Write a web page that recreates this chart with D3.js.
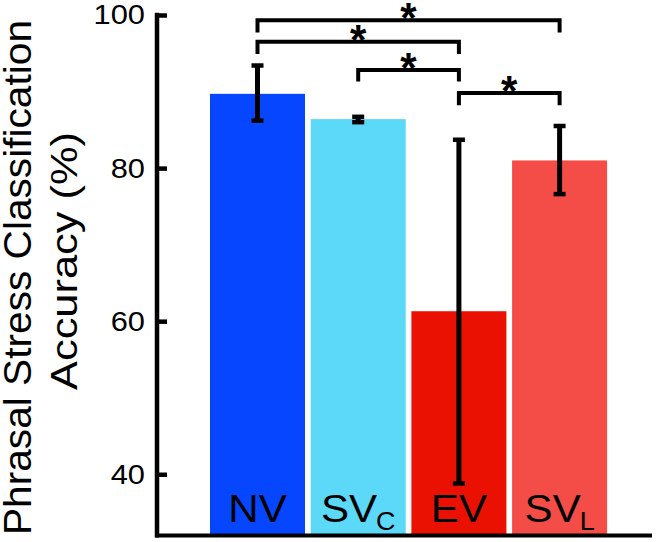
<!DOCTYPE html>
<html><head><meta charset="utf-8">
<script src="https://cdn.jsdelivr.net/npm/d3@7"></script>
<style>body{margin:0;background:#fff}svg{display:block}</style>
</head><body>
<script>
const categories = ["NV", "SVC", "EV", "SVL"];
const labelMain = ["NV", "SV", "EV", "SV"];
const labelSub = ["", "C", "", "L"];
const means = [89.7, 86.4, 61.3, 81.0];
const errLow = [86.2, 86.0, 38.8, 76.6];
const errHigh = [93.4, 86.7, 83.7, 85.5];
const colors = ["#0646FE", "#5CD9F9", "#EA1103", "#F44C47"];
const yTicks = [40, 60, 80, 100];
const yTitle = ["Phrasal Stress Classification", "Accuracy (%)"];
// significance brackets: from category, to category, bar level, leg bottom
const sigFrom = ["NV", "NV", "SVC", "EV"];
const sigTo = ["SVL", "EV", "EV", "SVL"];
const sigLevel = [99.3, 96.5, 92.8, 89.8];
const sigLeg = [97.7, 94.9, 91.3, 88.2];
const sigLabel = ["*", "*", "*", "*"];

const W = 656, H = 542;
const svg = d3.select("body").append("svg").attr("width", W).attr("height", H);
const font = "'Liberation Sans', Arial, Helvetica, sans-serif";
const stretch = 1.08;

const y = d3.scaleLinear().domain([32, 100]).range([535.5, 15]);
const x = d3.scaleBand().domain(categories).range([210, 607.1]).paddingInner(0.0566).paddingOuter(0);
const cx = c => x(c) + x.bandwidth() / 2;

// bars
svg.selectAll("rect.bar").data(categories).join("rect")
  .attr("x", d => x(d)).attr("width", x.bandwidth())
  .attr("y", (d, i) => y(means[i])).attr("height", (d, i) => y(32) - y(means[i]))
  .attr("fill", (d, i) => colors[i]);

// error bars
const eb = svg.append("g").attr("stroke", "#000");
categories.forEach((c, i) => {
  eb.append("line").attr("stroke-width", 5).attr("x1", cx(c)).attr("x2", cx(c)).attr("y1", y(errLow[i])).attr("y2", y(errHigh[i]));
  [errLow[i], errHigh[i]].forEach(v => eb.append("line").attr("stroke-width", 4.5).attr("x1", cx(c) - 6).attr("x2", cx(c) + 6).attr("y1", y(v)).attr("y2", y(v)));
});

// axes
const yAxis = d3.axisLeft(y).tickValues(yTicks).tickSize(0).tickPadding(0).tickFormat(d3.format("d"));
const gy = svg.append("g").attr("transform", "translate(157,0)").call(yAxis);
gy.select(".domain").remove();
gy.selectAll("text").attr("x", 0).attr("font-family", font).attr("font-size", 28).attr("fill", "#000")
  .attr("transform", `translate(-12,0) scale(${stretch * 1.02},1)`);
gy.selectAll(".tick").append("line").attr("x1", 0).attr("x2", 10).attr("stroke", "#000").attr("stroke-width", 4.5);
svg.append("line").attr("x1", 157).attr("x2", 157).attr("y1", y(100) - 2.2).attr("y2", y(32) + 2).attr("stroke", "#000").attr("stroke-width", 4.5);
svg.append("line").attr("x1", 155).attr("x2", 652).attr("y1", y(32)).attr("y2", y(32)).attr("stroke", "#000").attr("stroke-width", 4);

// y title (two lines, rotated)
const titlePos = [{x: 31, y: 277.5, len: 515, fs: 38}, {x: 77, y: 261, len: 258, fs: 37}];
yTitle.forEach((t, i) => {
  const p = titlePos[i];
  svg.append("text").attr("transform", `translate(${p.x},${p.y}) rotate(-90)`)
    .attr("text-anchor", "middle").attr("font-family", font).attr("font-size", p.fs).attr("fill", "#000")
    .attr("textLength", p.len).attr("lengthAdjust", "spacingAndGlyphs").text(t);
});

// bar labels
categories.forEach((c, i) => {
  const t = svg.append("text").attr("transform", `translate(${cx(c)},522) scale(${stretch},1)`).attr("text-anchor", "middle")
    .attr("font-family", font).attr("font-size", 39).attr("fill", "#000");
  t.append("tspan").text(labelMain[i]);
  if (labelSub[i]) t.append("tspan").attr("font-size", 25).attr("dy", 8).attr("dx", -1).text(labelSub[i]);
});

// significance brackets
const sg = svg.append("g");
sigFrom.forEach((f, i) => {
  const x1 = cx(f), x2 = cx(sigTo[i]);
  sg.append("path").attr("d", `M${x1},${y(sigLeg[i])}V${y(sigLevel[i])}H${x2}V${y(sigLeg[i])}`)
    .attr("fill", "none").attr("stroke", "#000").attr("stroke-width", 4);
  sg.append("text").attr("x", (x1 + x2) / 2).attr("y", y(sigLevel[i]) + 12).attr("text-anchor", "middle")
    .attr("font-family", font).attr("font-weight", "bold").attr("font-size", 42).attr("fill", "#000").text(sigLabel[i]);
});
</script>
</body></html>
